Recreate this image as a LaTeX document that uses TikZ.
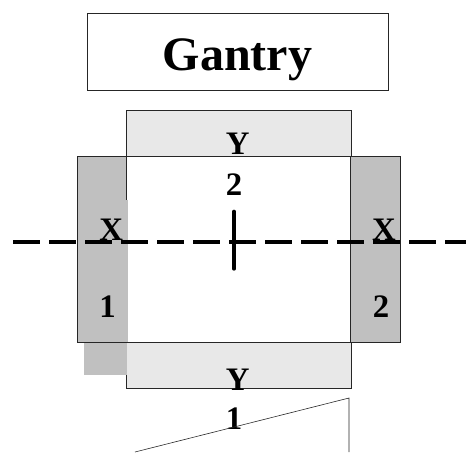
\documentclass[tikz,border=0pt]{standalone}
\usepackage{fontspec}
\setmainfont{Liberation Serif}
\usepackage{tikz}
\tikzset{
  edgeline/.style={draw=black!85,line width=0.5pt},
  label/.style={font=\fontsize{28}{30}\selectfont\bfseries,inner sep=0pt},
}
\definecolor{darkpad}{HTML}{C0C0C0}
\definecolor{lightpad}{HTML}{E8E8E8}

\begin{document}
\begin{tikzpicture}
\useasboundingbox (0,0) rectangle (13.980,-13.560);
\fill[white] (0,0) rectangle (13.980,-13.560);
\draw[edgeline] (2.610,-0.390) rectangle (11.640,-2.700);
\node[font=\fontsize{41}{44}\selectfont\bfseries,inner sep=0pt] (title) at (7.125,-1.800) {Gantry};
\draw[edgeline,fill=lightpad] (3.790,-3.300) rectangle (10.530,-4.680);
\draw[edgeline,fill=lightpad] (3.790,-10.260) rectangle (10.530,-11.640);
\draw[edgeline,fill=darkpad] (2.320,-4.680) rectangle (3.810,-10.260);
\draw[edgeline,fill=darkpad] (10.510,-4.680) rectangle (12.000,-10.260);
\fill[darkpad] (2.520,-10.260) rectangle (3.810,-11.250);
\draw[edgeline,fill=white] (3.790,-4.680) rectangle (10.510,-10.260);
\fill[darkpad] (3.660,-5.985) rectangle (3.830,-10.250);
\draw[edgeline] (2.320,-10.260) -- (3.810,-10.260);
\node[label] (ytop) at (7.130,-4.310) {Y};
\node[label] (ytopnum) at (7.020,-5.540) {2};
\node[label] (xleft) at (3.340,-6.880) {X};
\node[label] (xleftnum) at (3.230,-9.190) {1};
\node[label] (xright) at (11.520,-6.880) {X};
\node[label] (xrightnum) at (11.430,-9.190) {2};
\node[label] (ybot) at (7.130,-11.380) {Y};
\node[label] (ybotnum) at (7.020,-12.560) {1};
\draw[edgeline] (4.050,-13.560) -- (10.470,-11.940) -- (10.470,-13.560);
\draw[line width=3.4pt,dash pattern=on 0.810cm off 0.270cm] (0.390,-7.260) -- (13.980,-7.260);
\draw[line width=3.4pt,line cap=round] (7.020,-6.350) -- (7.020,-8.060);
\end{tikzpicture}
\end{document}
